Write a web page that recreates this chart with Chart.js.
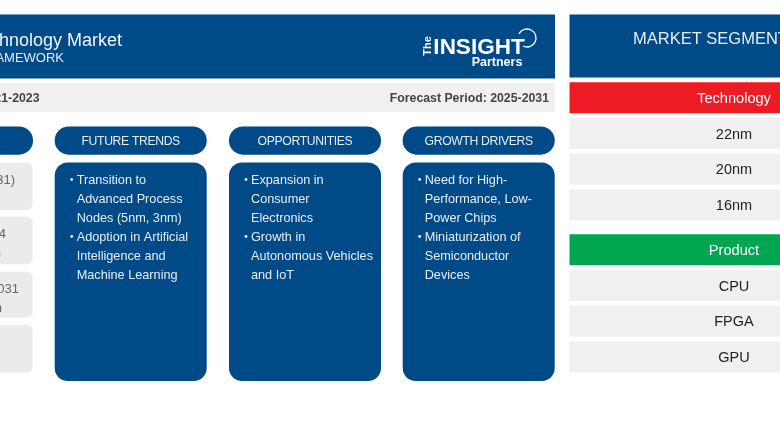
<!DOCTYPE html>
<html>
<head>
<meta charset="utf-8">
<title>Technology Market</title>
<script src="https://cdn.jsdelivr.net/npm/chart.js@4/dist/chart.umd.min.js"></script>
<style>
  html, body { margin: 0; padding: 0; background: #fff; overflow: hidden; }
  canvas { display: block; }
</style>
</head>
<body>
<canvas id="board" width="780" height="440"></canvas>
<script>
const titleText = "Technology Market";
const subtitleText = "FRAMEWORK";
const historicText = "Historic Data: 2021-2023";
const forecastText = "Forecast Period: 2025-2031";
const segmentTitle = "MARKET SEGMENTATION";
const columnTitles = ["OUTLOOK", "FUTURE TRENDS", "OPPORTUNITIES", "GROWTH DRIVERS"];
const futureTrends = [
  ["Transition to", "Advanced Process", "Nodes (5nm, 3nm)"],
  ["Adoption in Artificial", "Intelligence and", "Machine Learning"],
];
const opportunities = [
  ["Expansion in", "Consumer", "Electronics"],
  ["Growth in", "Autonomous Vehicles", "and IoT"],
];
const growthDrivers = [
  ["Need for High-", "Performance, Low-", "Power Chips"],
  ["Miniaturization of", "Semiconductor", "Devices"],
];
const outlookCells = [["(2025-2031)"], ["2024", "Billion"], ["by 2031", "Billion"], []];
const technologyItems = ["22nm", "20nm", "16nm"];
const productItems = ["CPU", "FPGA", "GPU"];

const BLUE = "#004a87";
const GREY = "#f0f0f0";
const FONT = '"Liberation Sans", Arial, sans-serif';

function box(ctx, x0, y0, x1, y1, r, color) {
  ctx.fillStyle = color;
  ctx.beginPath();
  ctx.roundRect(x0, y0, x1 - x0, y1 - y0, r);
  ctx.fill();
}

function label(ctx, text, x, y, font, color, align) {
  ctx.font = font + " " + FONT;
  ctx.fillStyle = color;
  ctx.textAlign = align || "center";
  ctx.textBaseline = "alphabetic";
  ctx.fillText(text, x, y);
}

function bullets(ctx, groups, x) {
  let y = 184;
  groups.forEach((lines) => {
    ctx.fillStyle = "#e8eef4";
    ctx.beginPath();
    ctx.arc(x - 5, y - 4.5, 1.4, 0, Math.PI * 2);
    ctx.fill();
    lines.forEach((line) => {
      label(ctx, line, x, y, "12.7px", "#e8eef4", "left");
      y += 19;
    });
  });
}

function drawLogo(ctx) {
  label(ctx, "INSIGHT", 479, 54, "bold 22.5px", "#fff");
  label(ctx, "Partners", 497, 66, "bold 12.5px", "#fff");
  ctx.save();
  ctx.translate(431, 46);
  ctx.rotate(-Math.PI / 2);
  label(ctx, "The", 0, 0, "bold 11px", "#fff");
  ctx.restore();
  ctx.strokeStyle = "#fff";
  ctx.lineWidth = 1.3;
  ctx.beginPath();
  ctx.arc(527, 38, 9, -Math.PI * 0.85, Math.PI * 0.65);
  ctx.stroke();
}

function drawSegment(ctx, title, items, color, top) {
  box(ctx, 569.5, top, 900, top + 31, 0, color);
  label(ctx, title, 734, top + 20.5, "14.6px", "#fff");
  items.forEach((item, i) => {
    let y = top + 35.7 + i * 35.7;
    box(ctx, 569.5, y, 900, y + 31, 0, GREY);
    label(ctx, item, 734, y + 20.5, "14.5px", "#222");
  });
}

const boardPlugin = {
  id: "board",
  beforeDraw(chart) {
    const ctx = chart.ctx;
    ctx.save();
    ctx.fillStyle = "#fff";
    ctx.fillRect(0, 0, 780, 440);

    // left framework panel
    box(ctx, -5, 14.5, 555, 78.5, 0, BLUE);
    label(ctx, titleText, 122, 46, "18px", "#f2f5f8", "right");
    label(ctx, subtitleText, 64, 62, "13px", "#e8eef4", "right");
    drawLogo(ctx);

    box(ctx, -5, 83, 555, 112, 0, GREY);
    label(ctx, historicText, 39.5, 102, "bold 12.3px", "#444", "right");
    label(ctx, forecastText, 549, 102, "bold 12.3px", "#444", "right");

    // column heads and bodies
    const lefts = [-119, 54.7, 229, 402.7];
    columnTitles.forEach((title, i) => {
      box(ctx, lefts[i], 126.5, lefts[i] + 152, 154.7, 14, BLUE);
      ctx.letterSpacing = "-0.35px";
      label(ctx, title, lefts[i] + 76, 145.4, "12.2px", "#e8eef4");
      ctx.letterSpacing = "0px";
    });

    const cellTops = [162.7, 216.7, 271.7, 325];
    const cellBottoms = [210, 264.3, 317.7, 372.7];
    const cellEnds = [15, 6, 19, 0];
    outlookCells.forEach((lines, i) => {
      box(ctx, -20, cellTops[i], 32.7, cellBottoms[i], 6, "#ebebeb");
      lines.forEach((line, j) => {
        label(ctx, line, cellEnds[i] - j * (cellEnds[i] > 10 ? 17 : 5), cellTops[i] + 21 + j * 19, "13px", "#666", "right");
      });
    });

    [futureTrends, opportunities, growthDrivers].forEach((groups, i) => {
      let left = lefts[i + 1];
      box(ctx, left, 162.5, left + 152, 381, 13, BLUE);
      bullets(ctx, groups, left + 22);
    });

    // market segmentation panel
    box(ctx, 569.5, 14.5, 900, 77.5, 0, BLUE);
    label(ctx, segmentTitle, 633, 44, "16.5px", "#e8eef4", "left");
    drawSegment(ctx, "Technology", technologyItems, "#ed1c24", 82.3);
    drawSegment(ctx, "Product", productItems, "#00a651", 234.3);
    ctx.restore();
  },
};

new Chart(document.getElementById("board"), {
  type: "bar",
  data: { labels: [], datasets: [] },
  options: {
    responsive: false,
    animation: false,
    devicePixelRatio: 1,
    layout: { padding: 0 },
    plugins: { legend: { display: false }, tooltip: { enabled: false } },
    scales: { x: { display: false }, y: { display: false } },
  },
  plugins: [boardPlugin],
});
</script>
</body>
</html>
